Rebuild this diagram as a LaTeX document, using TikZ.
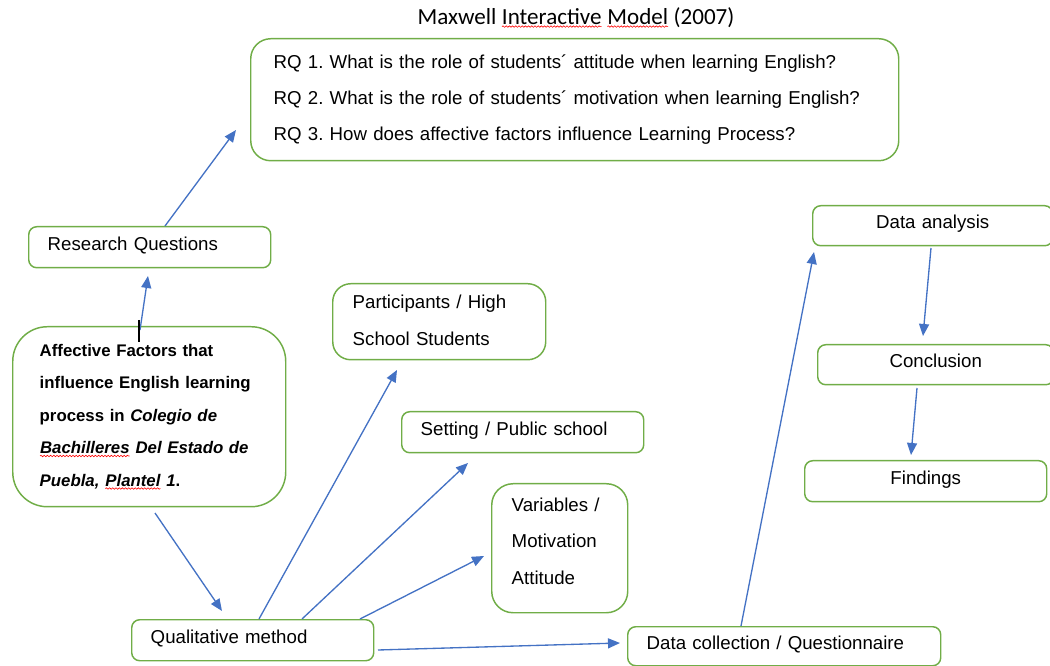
\documentclass[tikz,border=0pt]{standalone}
\usepackage{fontspec}
\setmainfont{Liberation Sans}
\newfontfamily\titlefont{Carlito}
\usetikzlibrary{arrows.meta,decorations.pathmorphing}
\definecolor{boxgreen}{HTML}{70AD47}
\definecolor{arrblue}{HTML}{4472C4}
\frenchspacing
\newcommand{\redsq}[1]{\tikz[baseline=(sqw.base)]{\node[shape=rectangle,draw=none,fill=none,inner sep=0pt,outer sep=0pt,
  minimum width=0pt,minimum height=0pt,text width={},text height={},text depth={},anchor=base](sqw){#1};
  \draw[red,sharp corners,line width=0.45pt,decorate,decoration={snake,amplitude=0.55pt,segment length=2.4pt}]
  ([yshift=-1.6pt]sqw.south west)--([yshift=-1.6pt]sqw.south east);}}
\begin{document}
\begin{tikzpicture}[x=0.75pt,y=-0.75pt,
  box/.style={draw=boxgreen, line width=1.1pt, rounded corners=6pt, anchor=north west,
    inner ysep=0pt, align=left, font=\fontsize{14}{27.5}\selectfont},
  oneline/.style={text height=10.4pt, text depth=6pt},
  conn/.style={arrblue, line width=1pt, -{Triangle[length=9pt,width=7.5pt]}},
  title/.style={font=\titlefont\fontsize{17.3}{20}\selectfont}
]
\useasboundingbox (0,0) rectangle (1050,666);

\node[title] (ttl) at (576,17.5) {Maxwell \redsq{Interactive} \redsq{Model} (2007)};

\node[box, rounded corners=15pt, minimum width=486pt, minimum height=91.5pt,
  text width=451.5pt, inner xsep=17.25pt,
  font=\fontsize{14}{27}\selectfont] (rq) at (250,38)
  {RQ 1. What is the role of students´ attitude when learning English?\\
   RQ 2. What is the role of students´ motivation when learning English?\\
   RQ 3. How does affective factors influence Learning Process?};

\node[box, oneline, minimum width=181.5pt, minimum height=30.75pt, text width=153pt,
  inner xsep=14.25pt] (resq) at (28,226) {Research Questions};

\node[box, rounded corners=26pt, minimum width=204.75pt, minimum height=135pt,
  text width=164.25pt, inner xsep=20.25pt,
  font=\fontsize{12.6}{24.4}\selectfont\bfseries] (aff) at (12,326)
  {Affective Factors that\\
   influence English learning\\
   process in \textit{Colegio de}\\
   \textit{\redsq{Bachilleres} Del Estado de}\\
   \textit{Puebla, \redsq{Plantel} 1}.};

\node[box, rounded corners=13.5pt, minimum width=159.75pt, minimum height=57pt,
  text width=129.75pt, inner xsep=15pt, text depth=29.9pt] (part) at (332,283)
  {Participants / High\\School Students};

\node[box, oneline, minimum width=181.5pt, minimum height=30.75pt, text width=153pt,
  inner xsep=14.25pt] (sett) at (401,411) {Setting / Public school};

\node[box, rounded corners=16pt, minimum width=102pt, minimum height=96.75pt,
  text width=72pt, inner xsep=15pt, text depth=65.7pt] (vars) at (491,483)
  {Variables /\\Motivation\\Attitude};

\node[box, oneline, minimum width=181.5pt, minimum height=30.75pt, text width=153pt,
  inner xsep=14.25pt] (qual) at (131,619) {Qualitative method};

\node[box, oneline, minimum width=234.75pt, minimum height=29.25pt, text width=206.25pt,
  inner xsep=14.25pt] (dcol) at (627,626) {Data collection / Questionnaire};

\node[box, oneline, align=center, minimum width=180pt, minimum height=30pt, text width=160pt,
  inner xsep=10pt] (dana) at (812,205) {Data analysis};

\node[box, oneline, align=center, minimum width=177pt, minimum height=30pt, text width=157pt,
  inner xsep=10pt] (concl) at (817,344) {Conclusion};

\node[box, oneline, align=center, minimum width=181.5pt, minimum height=30.75pt, text width=161.5pt,
  inner xsep=10pt] (find) at (804,460) {Findings};

% connector end points
\coordinate (s1) at (165,226);  \coordinate (e1) at (236,130);
\coordinate (s2) at (140,330);  \coordinate (e2) at (148,276);
\coordinate (s3) at (155,513);  \coordinate (e3) at (222,611);
\coordinate (s4) at (259,619);  \coordinate (e4) at (397,370);
\coordinate (s5) at (302,619);  \coordinate (e5) at (468,463);
\coordinate (s6) at (360,619);  \coordinate (e6) at (484,556);
\coordinate (s7) at (378,650);  \coordinate (e7) at (620,643);
\coordinate (s8) at (741,626);  \coordinate (e8) at (814,252);
\coordinate (s9) at (931,248);  \coordinate (e9) at (923,336);
\coordinate (s10) at (917,388); \coordinate (e10) at (911,455);
\coordinate (c1) at (139,320);  \coordinate (c2) at (139,342);

\draw[conn] (s1) -- (e1);
\draw[conn] (s2) -- (e2);
\draw[conn] (s3) -- (e3);
\draw[conn] (s4) -- (e4);
\draw[conn] (s5) -- (e5);
\draw[conn] (s6) -- (e6);
\draw[conn] (s7) -- (e7);
\draw[conn] (s8) -- (e8);
\draw[conn] (s9) -- (e9);
\draw[conn] (s10) -- (e10);
\draw[black, line width=0.9pt] (c1) -- (c2);
\end{tikzpicture}
\end{document}
